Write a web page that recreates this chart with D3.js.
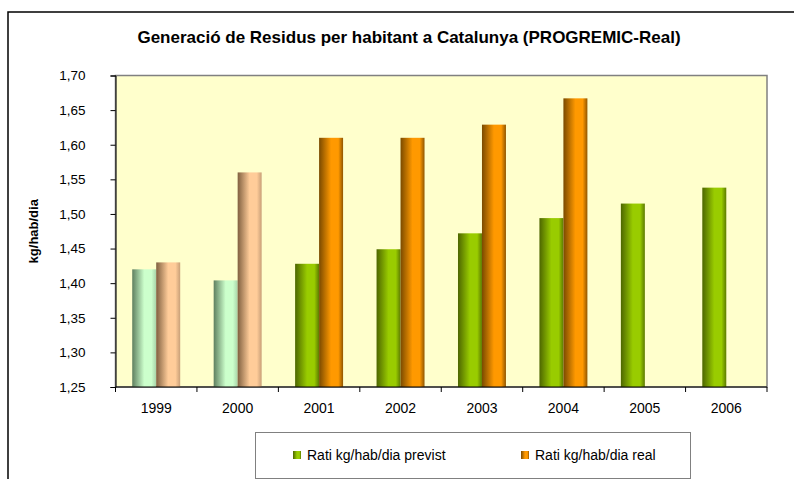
<!DOCTYPE html>
<html>
<head>
<meta charset="utf-8">
<script src="https://cdn.jsdelivr.net/npm/d3@7"></script>
<style>
    body { margin: 0; background: #fff; }
    svg { display: block; font-family: "Liberation Sans", Arial, sans-serif; }
</style>
</head>
<body>
<svg id="gfx" width="794" height="479"></svg>
<script>
// data
const years = ["1999", "2000", "2001", "2002", "2003", "2004", "2005", "2006"];
const previst = [1.42, 1.404, 1.428, 1.449, 1.472, 1.494, 1.515, 1.538];
const real = [1.43, 1.56, 1.61, 1.61, 1.629, 1.667, null, null];
const yTicks = [1.25, 1.30, 1.35, 1.40, 1.45, 1.50, 1.55, 1.60, 1.65, 1.70];
const seriesNames = ["Rati kg/hab/dia previst", "Rati kg/hab/dia real"];
const lightYears = ["1999", "2000"];

const svg = d3.select("#gfx");
const plot = { left: 115.5, right: 767, top: 75.5, bottom: 387 };

// gradients
const defs = svg.append("defs");
function grad(id, dark, bright, end) {
    const g = defs.append("linearGradient").attr("id", id)
        .attr("x1", "0%").attr("x2", "100%").attr("y1", "0%").attr("y2", "0%");
    [[0, dark], [0.5, bright], [0.8, bright], [1, end]].forEach(s =>
        g.append("stop").attr("offset", s[0]).attr("stop-color", s[1]));
}
grad("gGreen", "#4d6600", "#99cc00", "#5c7a00");
grad("gOrange", "#7a4a00", "#ff9900", "#8f5500");
grad("gLightGreen", "#5f7f5f", "#ccffcc", "#a8d4a8");
grad("gLightOrange", "#806040", "#ffcc99", "#c89f78");

// outer chart frame
svg.append("rect")
    .attr("x", 8).attr("y", 12).attr("width", 820).attr("height", 520)
    .attr("fill", "#fff").attr("stroke", "#000").attr("stroke-width", 1.5);

svg.append("text")
    .attr("x", 409).attr("y", 43)
    .attr("text-anchor", "middle")
    .attr("font-weight", "bold").attr("font-size", 17)
    .text("Generació de Residus per habitant a Catalunya (PROGREMIC-Real)");

// scales
const x = d3.scaleBand().domain(years).range([plot.left, plot.right]);
const xs = d3.scaleBand().domain([0, 1]).range([0, x.bandwidth()]).paddingOuter(0.698);
const y = d3.scaleLinear().domain([1.25, 1.70]).range([plot.bottom, plot.top]);

// plot background with gray border
svg.append("rect")
    .attr("x", plot.left).attr("y", plot.top)
    .attr("width", plot.right - plot.left).attr("height", plot.bottom - plot.top)
    .attr("fill", "#ffffcc").attr("stroke", "#808080").attr("stroke-width", 1.5);

// bars
const fills = (yr, i) => lightYears.includes(yr)
    ? (i === 0 ? "url(#gLightGreen)" : "url(#gLightOrange)")
    : (i === 0 ? "url(#gGreen)" : "url(#gOrange)");

const bars = [];
years.forEach((yr, k) => {
    [previst[k], real[k]].forEach((v, i) => {
        if (v != null) bars.push({ yr, i, v });
    });
});

svg.append("g").selectAll("rect")
    .data(bars)
    .join("rect")
    .attr("x", d => x(d.yr) + xs(d.i))
    .attr("y", d => y(d.v))
    .attr("width", xs.bandwidth())
    .attr("height", d => y(1.25) - y(d.v))
    .attr("fill", d => fills(d.yr, d.i));

// y axis
const yAxis = svg.append("g")
    .attr("transform", "translate(" + plot.left + ",0)")
    .call(d3.axisLeft(y).tickValues(yTicks).tickSize(5).tickPadding(25)
        .tickFormat(d => d3.format(".2f")(d).replace(".", ",")));
yAxis.select(".domain").attr("stroke", "#000");
yAxis.selectAll("text").attr("font-size", 13.5).attr("fill", "#000")
    .attr("font-family", "Liberation Sans, Arial, sans-serif");

// x axis: ticks on band boundaries
const xAxis = svg.append("g")
    .attr("transform", "translate(0," + plot.bottom + ")");
xAxis.append("line")
    .attr("x1", plot.left).attr("x2", plot.right)
    .attr("stroke", "#000");
xAxis.selectAll("line.tick")
    .data(years.concat(["end"]))
    .join("line")
    .attr("class", "tick")
    .attr("x1", d => d === "end" ? plot.right : x(d))
    .attr("x2", d => d === "end" ? plot.right : x(d))
    .attr("y1", 0).attr("y2", 5)
    .attr("stroke", "#000");
xAxis.selectAll("text")
    .data(years)
    .join("text")
    .attr("x", d => x(d) + x.bandwidth() / 2)
    .attr("y", 26)
    .attr("text-anchor", "middle")
    .attr("font-size", 14)
    .text(d => d);

svg.append("text")
    .attr("transform", "translate(38," + ((plot.top + plot.bottom) / 2) + ") rotate(-90)")
    .attr("text-anchor", "middle")
    .attr("font-weight", "bold").attr("font-size", 13)
    .text("kg/hab/dia");

// legend
const legend = svg.append("g");
legend.append("rect")
    .attr("x", 255.5).attr("y", 432.5).attr("width", 435).attr("height", 46)
    .attr("fill", "#fff").attr("stroke", "#808080");
const legX = [293, 521];
const legFill = ["url(#gGreen)", "url(#gOrange)"];
seriesNames.forEach((name, i) => {
    legend.append("rect")
        .attr("x", legX[i]).attr("y", 451)
        .attr("width", 8).attr("height", 8)
        .attr("fill", legFill[i]);
    legend.append("text")
        .attr("x", legX[i] + 14).attr("y", 460)
        .attr("font-size", 14)
        .text(name);
});
</script>
</body>
</html>
